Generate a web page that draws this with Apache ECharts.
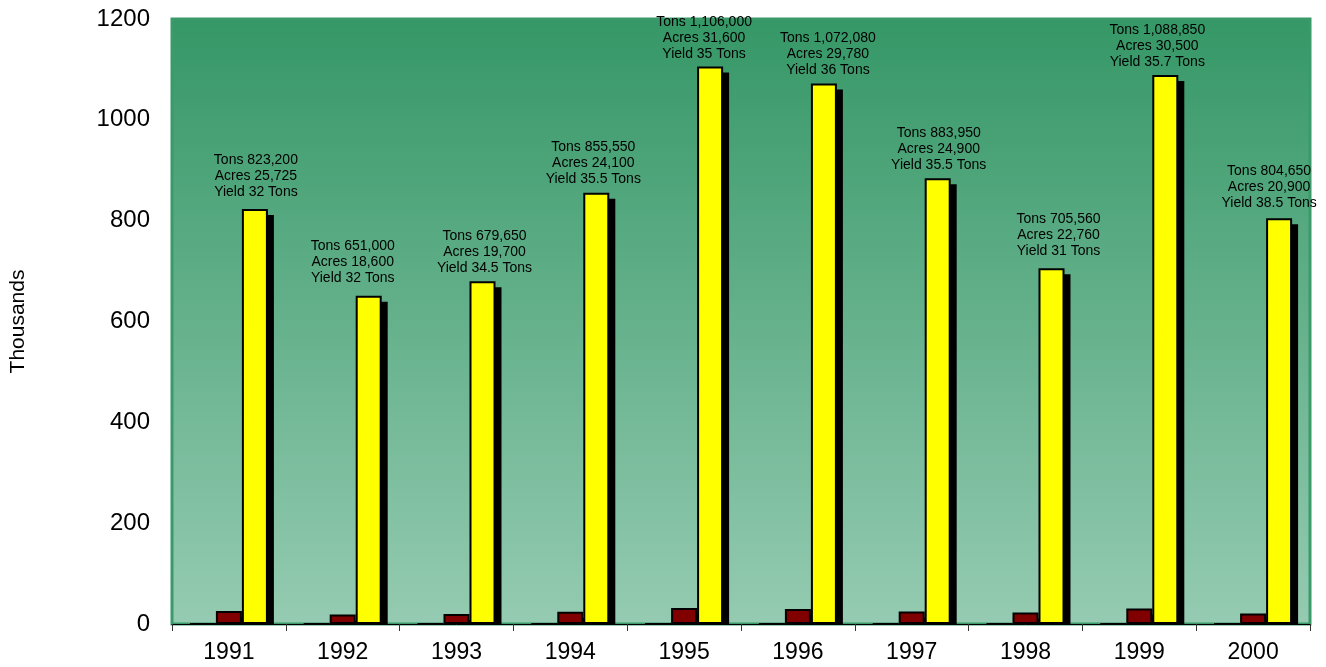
<!DOCTYPE html>
<html>
<head>
<meta charset="utf-8">
<script src="https://cdn.jsdelivr.net/npm/echarts@6/dist/echarts.min.js"></script>
<style>
html,body{margin:0;padding:0;background:#fff;}
#c{width:1326px;height:667px;}
</style>
</head>
<body>
<div id="c"></div>
<script>
const years = ['1991','1992','1993','1994','1995','1996','1997','1998','1999','2000'];
// values in thousands
const tons = [823.2, 651.0, 679.65, 855.55, 1106.0, 1072.08, 883.95, 705.56, 1088.85, 804.65];
const acres = [25.725, 18.6, 19.7, 24.1, 31.6, 29.78, 24.9, 22.76, 30.5, 20.9];
const yieldTons = [32, 32, 34.5, 35.5, 35, 36, 35.5, 31, 35.7, 38.5]; // tons per acre
const yieldThousands = yieldTons.map(v => v / 1000);
const yTicks = [0, 200, 400, 600, 800, 1000, 1200];
// annotation nudges (pixels) as placed in the original
const labelNudge = [[1,2],[-16,1],[2,6],[-3,5],[-6,7],[4,6],[1,6],[7,2],[-8,6],[-10,4]];

function fmt(n) {
  return Math.round(n).toLocaleString('en-US');
}

const BAR_W = 26;
const SH_X = 6, SH_Y = 6;
const FONT = 'Liberation Sans, Arial, sans-serif';

// shadow data: [categoryIndex, value, slot]
const shadowData = [];
[yieldThousands, acres, tons].forEach((arr, slot) => {
  arr.forEach((v, i) => shadowData.push([i, v, slot]));
});

const chart = echarts.init(document.getElementById('c'));
const barStyle = { borderColor: '#000', borderWidth: 2 };

chart.setOption({
  animation: false,
  grid: {
    left: 172, right: 16, top: 19, bottom: 43,
    outerBoundsMode: 'none',
    containLabel: false,
    show: true,
    borderColor: '#3a9a6a', borderWidth: 3,
    backgroundColor: {
      type: 'linear', x: 0, y: 0, x2: 0, y2: 1,
      colorStops: [{ offset: 0, color: '#359766' }, { offset: 1, color: '#95cbb2' }]
    }
  },
  xAxis: {
    type: 'category',
    data: years,
    z: 10,
    axisLine: { show: true, lineStyle: { color: '#000', width: 1 } },
    axisTick: { show: true, length: 7, lineStyle: { color: '#333' } },
    axisLabel: { fontFamily: FONT, fontSize: 23, color: '#000', margin: 17 }
  },
  yAxis: {
    type: 'value',
    min: 0, max: 1200, interval: 200,
    name: 'Thousands',
    nameLocation: 'middle',
    nameRotate: 90,
    nameGap: 143,
    nameTextStyle: { fontFamily: FONT, fontSize: 21, color: '#000' },
    axisLine: { show: false },
    axisTick: { show: false },
    splitLine: { show: false },
    axisLabel: { fontFamily: FONT, fontSize: 24, color: '#000', margin: 22,
      formatter: v => yTicks.includes(v) ? String(v) : '' }
  },
  series: [
    {
      name: 'Shadow', type: 'custom', z: 1, silent: true,
      data: shadowData,
      renderItem: (params, api) => {
        const idx = api.value(0);
        const slot = api.value(2);
        const top = api.coord([idx, api.value(1)]);
        const base = api.coord([idx, 0]);
        const x0 = top[0] + (slot - 1.5) * BAR_W + SH_X;
        const y0 = top[1] + SH_Y;
        const h = base[1] - y0;
        if (h <= 0) return null;
        return { type: 'rect', shape: { x: x0, y: y0, width: BAR_W, height: h }, style: { fill: '#000' } };
      }
    },
    {
      name: 'Yield', type: 'bar', data: yieldThousands, barWidth: BAR_W, barGap: '0%', z: 2,
      itemStyle: Object.assign({ color: '#000080' }, barStyle)
    },
    {
      name: 'Acres', type: 'bar', data: acres, barWidth: BAR_W, barGap: '0%', z: 2,
      itemStyle: Object.assign({ color: '#800000' }, barStyle)
    },
    {
      name: 'Tons', type: 'bar', barWidth: BAR_W, barGap: '0%', z: 2,
      data: tons.map((v, i) => ({ value: v, label: { offset: labelNudge[i] } })),
      itemStyle: Object.assign({ color: '#ffff00' }, barStyle),
      label: {
        show: true, position: 'top', distance: 11,
        fontFamily: FONT, fontSize: 14, color: '#000', lineHeight: 16,
        align: 'center',
        formatter: p => {
          const i = p.dataIndex;
          return 'Tons ' + fmt(tons[i] * 1000) + '\nAcres ' + fmt(acres[i] * 1000) + '\nYield ' + yieldTons[i] + ' Tons';
        }
      }
    }
  ]
});
</script>
</body>
</html>
